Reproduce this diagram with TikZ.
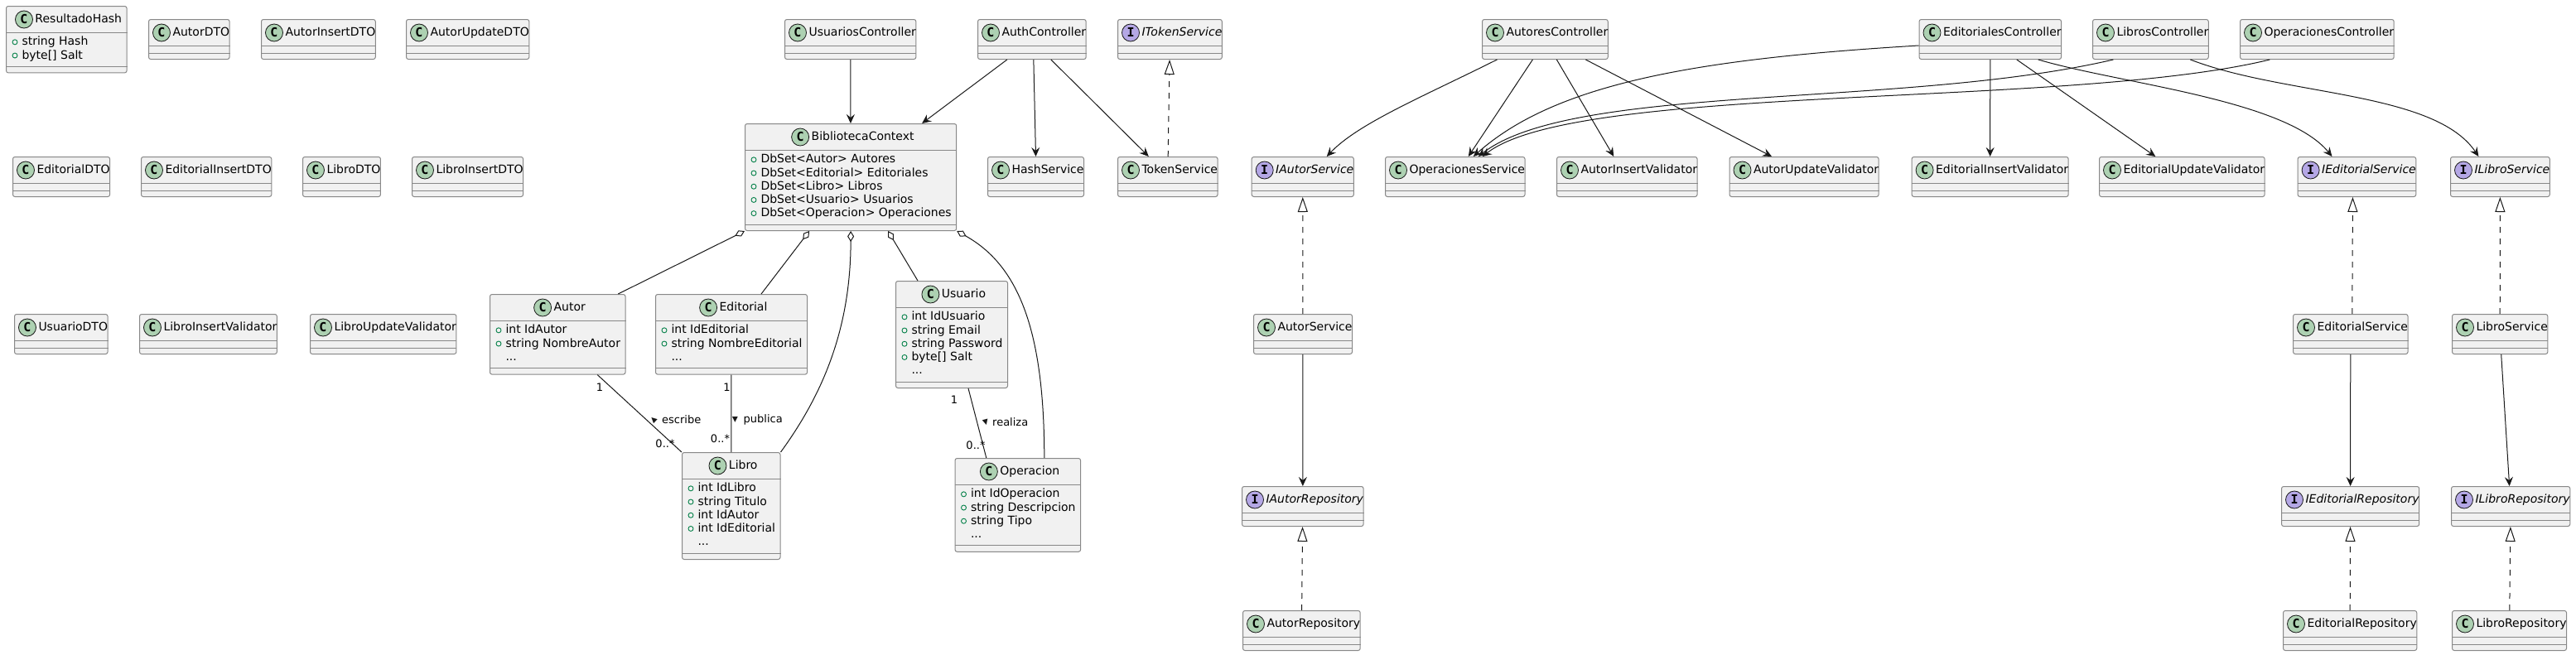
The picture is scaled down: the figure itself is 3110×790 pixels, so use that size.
\documentclass[tikz,border=0pt]{standalone}
\usepackage{fontspec}
\setmainfont{DejaVu Sans}
\newfontfamily\iconfont{DejaVu Sans Mono}
\usetikzlibrary{arrows.meta}

\definecolor{boxfill}{HTML}{F1F1F1}
\definecolor{boxline}{HTML}{888888}
\definecolor{arrowc}{HTML}{181818}
\definecolor{cgreen}{HTML}{ADD1B2}
\definecolor{ipurple}{HTML}{B4A7E5}
\definecolor{visgreen}{HTML}{038048}

\newcommand{\umlfont}{\fontsize{14pt}{16.2pt}\selectfont}
\newcommand{\lblfont}{\fontsize{13pt}{15pt}\selectfont}

% round class / interface badge
\newcommand{\cicon}[2]{%
  \begin{pgfpicture}%
    \pgfsetbaseline{0pt}%
    \pgfpathrectangle{\pgfpoint{0pt}{-6.5pt}}{\pgfpoint{21pt}{21pt}}%
    \pgfusepath{use as bounding box}%
    \pgfpathcircle{\pgfpoint{10.5pt}{4pt}}{10.5pt}%
    \pgfsetfillcolor{#1}\pgfsetstrokecolor{arrowc}\pgfsetlinewidth{0.8pt}%
    \pgfusepath{fill,stroke}%
    \pgftext[at=\pgfpoint{10.5pt}{4pt}]{\iconfont\bfseries\fontsize{15pt}{15pt}\selectfont #2}%
  \end{pgfpicture}}
\newcommand{\ctitle}[1]{\rule[-12pt]{0pt}{32pt}\hspace{5pt}\cicon{cgreen}{C}\hspace{3pt}#1\hspace{3pt}}
\newcommand{\ititle}[1]{\rule[-12pt]{0pt}{32pt}\hspace{5pt}\cicon{ipurple}{I}\hspace{3pt}\textit{#1}\hspace{3pt}}
% public field mark
\newcommand{\vis}{\hspace{7pt}%
  \begin{pgfpicture}%
    \pgfsetbaseline{0pt}%
    \pgfpathrectangle{\pgfpointorigin}{\pgfpoint{7pt}{8pt}}%
    \pgfusepath{use as bounding box}%
    \pgfpathcircle{\pgfpoint{3.5pt}{4pt}}{3pt}%
    \pgfsetstrokecolor{visgreen}\pgfsetlinewidth{0.9pt}%
    \pgfusepath{stroke}%
  \end{pgfpicture}\hspace{5pt}}
\newcommand{\more}{\hspace{19pt}...}
% class with no members: title 32, two empty sections of 8
\newcommand{\cls}[1]{\begin{tabular}{@{}c@{}}#1\\\noalign{\vskip16pt}\end{tabular}}
% class with fields
\newenvironment{umlbox}[1]{\begin{tabular}{@{}l@{\hspace{6pt}}}\multicolumn{1}{c}{#1}\\\noalign{\vskip4pt}}{\\\noalign{\vskip12pt}\end{tabular}}

\tikzset{
  umlclass/.style={draw=boxline, fill=boxfill, line width=1pt, rounded corners=2.5pt,
    inner sep=0pt, font=\umlfont, anchor=north west},
  sepline/.style={draw=boxline, line width=1pt},
  dep/.style={draw=arrowc, line width=1pt, -{Stealth[length=11pt,width=10pt,inset=4pt]}},
  realize/.style={draw=arrowc, line width=1pt, dash pattern=on 7pt off 7pt,
    -{Triangle[open,fill=white,length=18pt,width=12pt]}},
  aggr/.style={draw=arrowc, line width=1pt, {Diamond[open,fill=white,length=13pt,width=8pt]}-},
  assoc/.style={draw=arrowc, line width=1pt},
  lbl/.style={font=\lblfont, inner sep=0pt},
  dirmark/.style={font=\fontsize{9pt}{9pt}\selectfont, inner sep=0pt, text=arrowc},
}

\begin{document}
\begin{tikzpicture}[x=1pt,y=-1pt]
	\useasboundingbox (0,0) rectangle (3110,790);
	% row 1
	\node[umlclass] (resh) at (7,7) {\begin{umlbox}{\ctitle{ResultadoHash}}\vis string Hash\\ \vis byte[] Salt\end{umlbox}};
	\node[umlclass] (autordto) at (179,23) {\cls{\ctitle{AutorDTO}}};
	\node[umlclass] (autinsdto) at (315,23) {\cls{\ctitle{AutorInsertDTO}}};
	\node[umlclass] (autupddto) at (490,23) {\cls{\ctitle{AutorUpdateDTO}}};
	\node[umlclass] (usuc) at (947,23) {\cls{\ctitle{UsuariosController}}};
	\node[umlclass] (authc) at (1180,23) {\cls{\ctitle{AuthController}}};
	\node[umlclass] (itoken) at (1349,23) {\cls{\ititle{ITokenService}}};
	\node[umlclass] (autc) at (1789,23) {\cls{\ctitle{AutoresController}}};
	\node[umlclass] (edc) at (2316.5,23) {\cls{\ctitle{EditorialesController}}};
	\node[umlclass] (libc) at (2526,23) {\cls{\ctitle{LibrosController}}};
	\node[umlclass] (opc) at (2704,23) {\cls{\ctitle{OperacionesController}}};
	% row 2
	\node[umlclass] (eddto) at (15,189) {\cls{\ctitle{EditorialDTO}}};
	\node[umlclass] (edinsdto) at (170,189) {\cls{\ctitle{EditorialInsertDTO}}};
	\node[umlclass] (libdto) at (365,189) {\cls{\ctitle{LibroDTO}}};
	\node[umlclass] (libinsdto) at (497,189) {\cls{\ctitle{LibroInsertDTO}}};
	\node[umlclass] (ctx) at (899,149) {\begin{umlbox}{\ctitle{BibliotecaContext}}\vis DbSet<Autor> Autores\\ \vis DbSet<Editorial> Editoriales\\ \vis DbSet<Libro> Libros\\ \vis DbSet<Usuario> Usuarios\\ \vis DbSet<Operacion> Operaciones\end{umlbox}};
	\node[umlclass] (hash) at (1192,189) {\cls{\ctitle{HashService}}};
	\node[umlclass] (token) at (1349,189) {\cls{\ctitle{TokenService}}};
	\node[umlclass] (iautsvc) at (1510.7,189) {\cls{\ititle{IAutorService}}};
	\node[umlclass] (opsvc) at (1672,189) {\cls{\ctitle{OperacionesService}}};
	\node[umlclass] (autins) at (1879,189) {\cls{\ctitle{AutorInsertValidator}}};
	\node[umlclass] (autupd) at (2087.5,189) {\cls{\ctitle{AutorUpdateValidator}}};
	\node[umlclass] (edins) at (2307.6,189) {\cls{\ctitle{EditorialInsertValidator}}};
	\node[umlclass] (edupd) at (2534,189) {\cls{\ctitle{EditorialUpdateValidator}}};
	\node[umlclass] (iedsvc) at (2773.6,189) {\cls{\ititle{IEditorialService}}};
	\node[umlclass] (ilibsvc) at (2958,189) {\cls{\ititle{ILibroService}}};
	% row 3
	\node[umlclass] (usudto) at (17,379) {\cls{\ctitle{UsuarioDTO}}};
	\node[umlclass] (libinsval) at (168,379) {\cls{\ctitle{LibroInsertValidator}}};
	\node[umlclass] (libupdval) at (374,379) {\cls{\ctitle{LibroUpdateValidator}}};
	\node[umlclass] (autor) at (591,355) {\begin{umlbox}{\ctitle{Autor}}\vis int IdAutor\\ \vis string NombreAutor\\ \more\end{umlbox}};
	\node[umlclass] (edit) at (791,355) {\begin{umlbox}{\ctitle{Editorial}}\vis int IdEditorial\\ \vis string NombreEditorial\\ \more\end{umlbox}};
	\node[umlclass] (usu) at (1081,339) {\begin{umlbox}{\ctitle{Usuario}}\vis int IdUsuario\\ \vis string Email\\ \vis string Password\\ \vis byte[] Salt\\ \more\end{umlbox}};
	\node[umlclass] (autsvc) at (1513,379) {\cls{\ctitle{AutorService}}};
	\node[umlclass] (edsvc) at (2768,379) {\cls{\ctitle{EditorialService}}};
	\node[umlclass] (libsvc) at (2960,379) {\cls{\ctitle{LibroService}}};
	% row 4
	\node[umlclass] (libro) at (823,546) {\begin{umlbox}{\ctitle{Libro}}\vis int IdLibro\\ \vis string Titulo\\ \vis int IdAutor\\ \vis int IdEditorial\\ \more\end{umlbox}};
	\node[umlclass] (oper) at (1152.5,553) {\begin{umlbox}{\ctitle{Operacion}}\vis int IdOperacion\\ \vis string Descripcion\\ \vis string Tipo\\ \more\end{umlbox}};
	\node[umlclass] (iautrepo) at (1499,587) {\cls{\ititle{IAutorRepository}}};
	\node[umlclass] (iedrepo) at (2754,587) {\cls{\ititle{IEditorialRepository}}};
	\node[umlclass] (ilibrepo) at (2959,587) {\cls{\ititle{ILibroRepository}}};
	% row 5
	\node[umlclass] (autrepo) at (1500,737) {\cls{\ctitle{AutorRepository}}};
	\node[umlclass] (edrepo) at (2756,737) {\cls{\ctitle{EditorialRepository}}};
	\node[umlclass] (librepo) at (2960,737) {\cls{\ctitle{LibroRepository}}};

	% compartment lines
	\foreach \n in {resh,autordto,autinsdto,autupddto,usuc,authc,itoken,autc,edc,libc,opc,
		eddto,edinsdto,libdto,libinsdto,ctx,hash,token,iautsvc,opsvc,autins,autupd,edins,edupd,iedsvc,ilibsvc,
		usudto,libinsval,libupdval,autor,edit,usu,autsvc,edsvc,libsvc,
		libro,oper,iautrepo,iedrepo,ilibrepo,autrepo,edrepo,librepo}
	\draw[sepline] ([yshift=-32pt]\n.north west) -- ([yshift=-32pt]\n.north east)
		([yshift=8pt]\n.south west) -- ([yshift=8pt]\n.south east);

	% dependencies
	\draw[dep] (usuc) -- (ctx);
	\draw[dep] ([xshift=-30pt]authc.south) -- ([xshift=86pt]ctx.north);
	\draw[dep] ([xshift=2pt]authc.south) -- (hash.north);
	\draw[dep] ([xshift=23pt]authc.south) -- ([xshift=-23pt]token.north);
	\draw[dep] ([xshift=-15pt]autc.south) -- ([xshift=16pt]opsvc.north);
	\draw[dep] ([xshift=14pt]autc.south) -- ([xshift=-16pt]autins.north);
	\draw[dep] ([xshift=49pt]autc.south) -- ([xshift=-39pt]autupd.north);
	\draw[dep] (edc) -- (edins);
	\draw[dep] ([xshift=32pt]edc.south) -- ([xshift=-32pt]edupd.north);
	\draw[dep] (autsvc) -- (iautrepo);
	\draw[dep] (edsvc) -- (iedrepo);
	\draw[dep] (libsvc) -- (ilibrepo);
	\draw[dep] ([xshift=-58pt]autc.south) .. controls +(-90,45) and +(38,-40) .. ([xshift=29pt]iautsvc.north);
	\draw[dep] ([yshift=17pt]edc.south west) .. controls +(-266,16) and +(100,-89) .. ([xshift=22pt]opsvc.north);
	\draw[dep] ([xshift=-45pt]libc.south) .. controls +(-253,59) and +(114,-89) .. ([xshift=28pt]opsvc.north);
	\draw[dep] ([xshift=-57pt]opc.south) .. controls +(-242,59) and +(114,-89) .. ([xshift=33pt]opsvc.north);
	\draw[dep] ([xshift=58pt]edc.south) .. controls +(98,29) and +(-56,-69) .. ([xshift=-30pt]iedsvc.north);
	\draw[dep] ([xshift=48pt]libc.south) .. controls +(114,44) and +(-53,-79) .. ([xshift=-26pt]ilibsvc.north);

	% realizations
	\draw[realize] (token) -- (itoken);
	\draw[realize] (autsvc) -- (iautsvc);
	\draw[realize] ([xshift=2pt]edsvc.north) -- ([xshift=-5pt]iedsvc.south);
	\draw[realize] (libsvc) -- (ilibsvc);
	\draw[realize] (autrepo) -- (iautrepo);
	\draw[realize] (edrepo) -- (iedrepo);
	\draw[realize] (librepo) -- (ilibrepo);

	% aggregations
	\draw[aggr] (ctx.south west) -- ([xshift=73pt]autor.north);
	\draw[aggr] ([xshift=-50pt]ctx.south) -- ([xshift=36pt]edit.north);
	\draw[aggr] (ctx.south) .. controls +(0,122) and +(48,-66) .. (libro.north east);
	\draw[aggr] ([xshift=45pt]ctx.south) -- ([xshift=-41pt]usu.north);
	\draw[aggr] (ctx.south east) .. controls +(75,42) and +(0,-153) .. ([xshift=32pt]oper.north);

	% associations
	\draw[assoc] ([xshift=48pt]autor.south) -- (libro.north west);
	\draw[assoc] (edit) -- (libro);
	\draw[assoc] ([xshift=20pt]usu.south) -- ([xshift=-38pt]oper.north);
	\node[lbl] (m1) at (724,468) {1};
	\node[lbl] (m2) at (803,536) {0..*};
	\node[dirmark, rotate=137] (d1) at (789,507) {▶};
	\node[lbl, anchor=west] (t1) at (799,507) {escribe};
	\node[lbl] (m3) at (877.5,468) {1};
	\node[lbl] (m4) at (869.5,530) {0..*};
	\node[dirmark, rotate=-90] (d2) at (887.5,507) {▶};
	\node[lbl, anchor=west] (t2) at (897.5,507) {publica};
	\node[lbl] (m5) at (1152,483) {1};
	\node[lbl] (m6) at (1178,538) {0..*};
	\node[dirmark, rotate=-75] (d3) at (1190,510) {▶};
	\node[lbl, anchor=west] (t3) at (1198,510) {realiza};
\end{tikzpicture}
\end{document}
